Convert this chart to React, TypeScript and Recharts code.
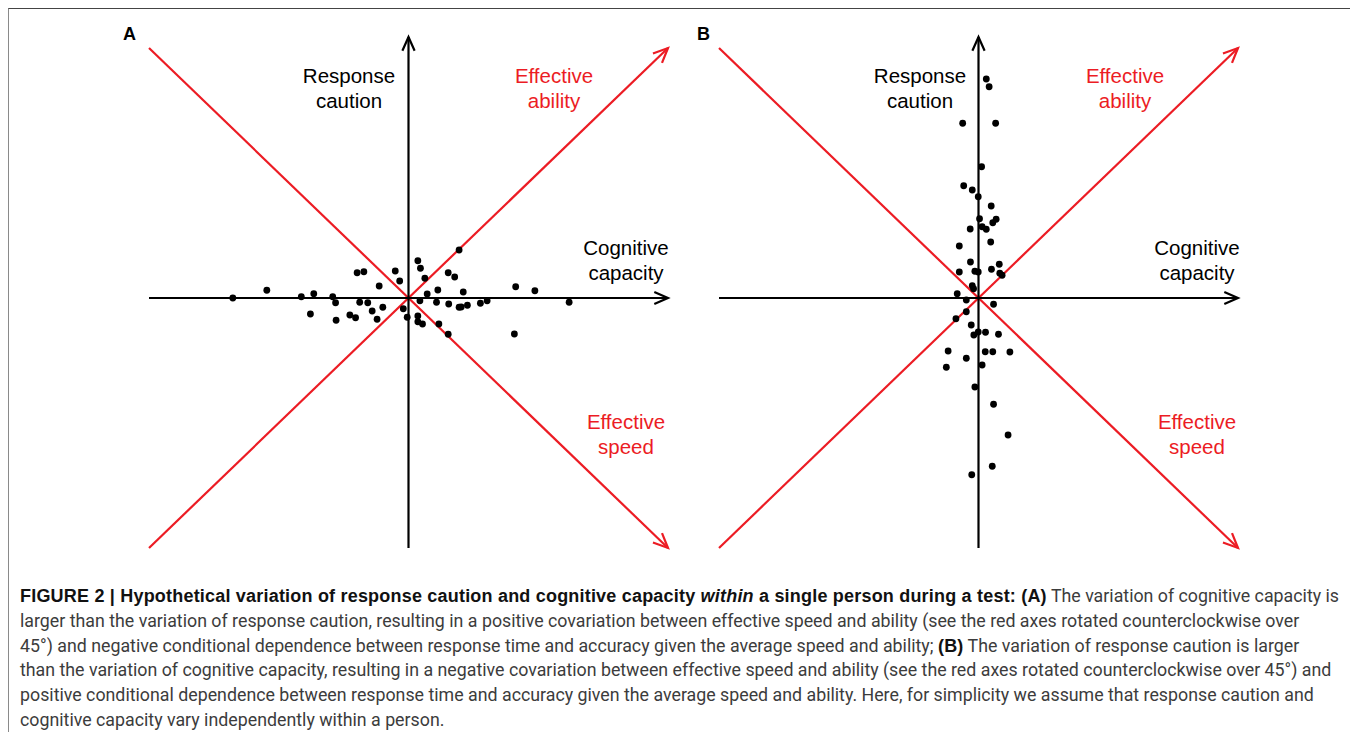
import React from "react";
import { ScatterChart, Scatter, XAxis, YAxis, ReferenceLine } from "recharts";

// Panel A: cognitive capacity varies more than response caution
const capacityA = [
  -6.77, -5.46, -4.13, -3.65, -3.78, -2.92, -2.81, -2.79, -1.98, -1.72, -2.26, -2.04,
  -1.88, -1.57, -1.4, -1.21, -1.13, -0.99, -0.51, -0.34, -0.2, -0.05, 0.36, 0.46,
  0.63, 1.95, 1.53, 1.78, 1.13, 0.72, 0.44, 2.11, 1.08, 1.55, 1.95, 2.03,
  2.27, 2.77, 3.03, 4.13, 4.87, 6.19, 4.08, 0.36, 0.36, 0.54, 1.17, 1.53,
];
const cautionA = [
  0.0, 0.31, 0.05, 0.17, -0.64, 0.05, -0.19, -0.89, 1.01, 1.05, -0.68, -0.79,
  -0.17, -0.19, -0.52, -0.85, 0.48, -0.37, 1.08, 0.68, -0.43, -0.77, 1.49, 1.19,
  0.79, 1.92, 1.01, 0.84, 0.32, 0.16, -0.11, 0.24, -0.17, -0.24, -0.37, -0.36,
  -0.29, -0.21, -0.11, 0.45, 0.29, -0.17, -1.44, -0.72, -0.95, -1.04, -1.04, -1.45,
];

// Panel B: response caution varies more than cognitive capacity
const capacityB = [
  0.3, 0.41, -0.61, 0.66, 0.12, -0.57, -0.24, -0.01, 0.49, 0.04, 0.68, 0.55,
  -0.32, 0.14, 0.3, 0.47, -0.74, -0.31, 0.8, -0.74, -0.14, -0.01, 0.5, 0.82,
  0.91, -0.24, -0.19, -0.82, -0.47, 0.58, -0.47, -0.87, -0.28, -0.18, -0.01, 0.27,
  0.77, -1.17, -0.47, 0.26, 0.55, 1.21, -1.24, 0.14, -0.14, 0.58, 1.14, 0.53, -0.26,
];
const cautionB = [
  8.76, 8.45, 6.99, 6.99, 5.25, 4.49, 4.32, 4.05, 3.68, 3.17, 3.15, 3.01,
  2.76, 2.85, 2.75, 2.24, 2.08, 1.44, 1.35, 1.04, 1.07, 1.04, 1.15, 0.99,
  0.91, 0.49, 0.37, 0.17, -0.08, -0.25, -0.55, -0.83, -1.08, -1.48, -1.36, -1.37,
  -1.45, -2.12, -2.41, -2.15, -2.15, -2.16, -2.77, -2.68, -3.56, -4.25, -5.48, -6.73, -7.07,
];

const RED = "#ec1c24";
const FONT = '"Liberation Sans", Arial, sans-serif';

function arrowShape(color: string, w: number, head: number) {
  return (p: any) => {
    const { x1, y1, x2, y2 } = p;
    const a = Math.atan2(y2 - y1, x2 - x1);
    const s = 0.42;
    const ax = x2 - head * Math.cos(a - s);
    const ay = y2 - head * Math.sin(a - s);
    const bx = x2 - head * Math.cos(a + s);
    const by = y2 - head * Math.sin(a + s);
    return (
      <g>
        <line x1={x1} y1={y1} x2={x2} y2={y2} stroke={color} strokeWidth={w} />
        <polyline
          points={`${ax},${ay} ${x2},${y2} ${bx},${by}`}
          fill="none"
          stroke={color}
          strokeWidth={w}
        />
      </g>
    );
  };
}

const dot = (p: any) => <circle cx={p.cx} cy={p.cy} r={3.4} fill="#000" />;

function Panel({ xs, ys, left }: { xs: number[]; ys: number[]; left: number }) {
  const data = xs.map((x, i) => ({ x, y: ys[i] }));
  return (
    <div style={{ position: "absolute", left, top: 20 }}>
      <ScatterChart width={600} height={560} margin={{ left: 49, right: 32, top: 17, bottom: 32 }}>
        <XAxis type="number" dataKey="x" domain={[-10, 10]} hide allowDataOverflow />
        <YAxis type="number" dataKey="y" domain={[-10, 10.44]} hide allowDataOverflow />
        <ReferenceLine segment={[{ x: -10, y: 10 }, { x: 10, y: -10 }]} ifOverflow="visible" shape={arrowShape(RED, 2.2, 16)} />
        <ReferenceLine segment={[{ x: -10, y: -10 }, { x: 10, y: 10 }]} ifOverflow="visible" shape={arrowShape(RED, 2.2, 16)} />
        <ReferenceLine segment={[{ x: -10, y: 0 }, { x: 10, y: 0 }]} ifOverflow="visible" shape={arrowShape("#000", 2.2, 15)} />
        <ReferenceLine segment={[{ x: 0, y: -10 }, { x: 0, y: 10.44 }]} ifOverflow="visible" shape={arrowShape("#000", 2.2, 15)} />
        <Scatter data={data} shape={dot} isAnimationActive={false} />
      </ScatterChart>
    </div>
  );
}

function Lbl({ x, y, lines, color = "#000" }: { x: number; y: number; lines: string[]; color?: string }) {
  return (
    <div
      style={{
        position: "absolute",
        left: x,
        top: y,
        transform: "translate(-50%, -50%)",
        textAlign: "center",
        fontFamily: FONT,
        fontSize: 20.5,
        lineHeight: "25px",
        color,
        whiteSpace: "nowrap",
      }}
    >
      {lines.map((l) => (
        <div key={l}>{l}</div>
      ))}
    </div>
  );
}

function Labels({ dx }: { dx: number }) {
  return (
    <>
      <Lbl x={349 + dx} y={88} lines={["Response", "caution"]} />
      <Lbl x={554 + dx} y={88} lines={["Effective", "ability"]} color={RED} />
      <Lbl x={626 + dx} y={260} lines={["Cognitive", "capacity"]} />
      <Lbl x={626 + dx} y={434} lines={["Effective", "speed"]} color={RED} />
    </>
  );
}

const capLine: React.CSSProperties = { height: 24.8, whiteSpace: "nowrap" };
const bold: React.CSSProperties = {
  color: "#111",
  fontFamily: FONT,
  fontWeight: "bold",
  fontSize: 18,
  letterSpacing: 0.2,
};

export default function App() {
  return (
    <div
      style={{
        position: "relative",
        width: 1358,
        height: 740,
        margin: -8,
        overflow: "hidden",
        background: "#fff",
      }}
    >
      <div style={{ position: "absolute", left: 7, top: 7, width: 1348, height: 740, borderTop: "2px solid #444", borderLeft: "2px solid #8a8a8a", borderRight: "2px solid #8a8a8a" }} />
      <Panel xs={capacityA} ys={cautionA} left={100} />
      <Panel xs={capacityB} ys={cautionB} left={670} />
      <Labels dx={0} />
      <Labels dx={571} />
      <div style={{ position: "absolute", left: 123, top: 24, fontFamily: FONT, fontWeight: "bold", fontSize: 18 }}>A</div>
      <div style={{ position: "absolute", left: 697, top: 24, fontFamily: FONT, fontWeight: "bold", fontSize: 18 }}>B</div>
      <div
        style={{
          position: "absolute",
          left: 20,
          top: 584,
          fontFamily: '"Roboto", "Liberation Sans", sans-serif',
          fontSize: 17.8,
          lineHeight: "24.8px",
          color: "#3c3c3c",
        }}
      >
        <div style={capLine}>
          <span style={bold}>
            FIGURE 2 | Hypothetical variation of response caution and cognitive capacity <i>within</i> a single person during a test: (A)
          </span>{" "}
          The variation of cognitive capacity is
        </div>
        <div style={capLine}>
          larger than the variation of response caution, resulting in a positive covariation between effective speed and ability (see the red axes rotated counterclockwise over
        </div>
        <div style={capLine}>
          45°) and negative conditional dependence between response time and accuracy given the average speed and ability; <span style={bold}>(B)</span> The variation of response caution is larger
        </div>
        <div style={capLine}>
          than the variation of cognitive capacity, resulting in a negative covariation between effective speed and ability (see the red axes rotated counterclockwise over 45°) and
        </div>
        <div style={capLine}>
          positive conditional dependence between response time and accuracy given the average speed and ability. Here, for simplicity we assume that response caution and
        </div>
        <div style={capLine}>cognitive capacity vary independently within a person.</div>
      </div>
    </div>
  );
}
